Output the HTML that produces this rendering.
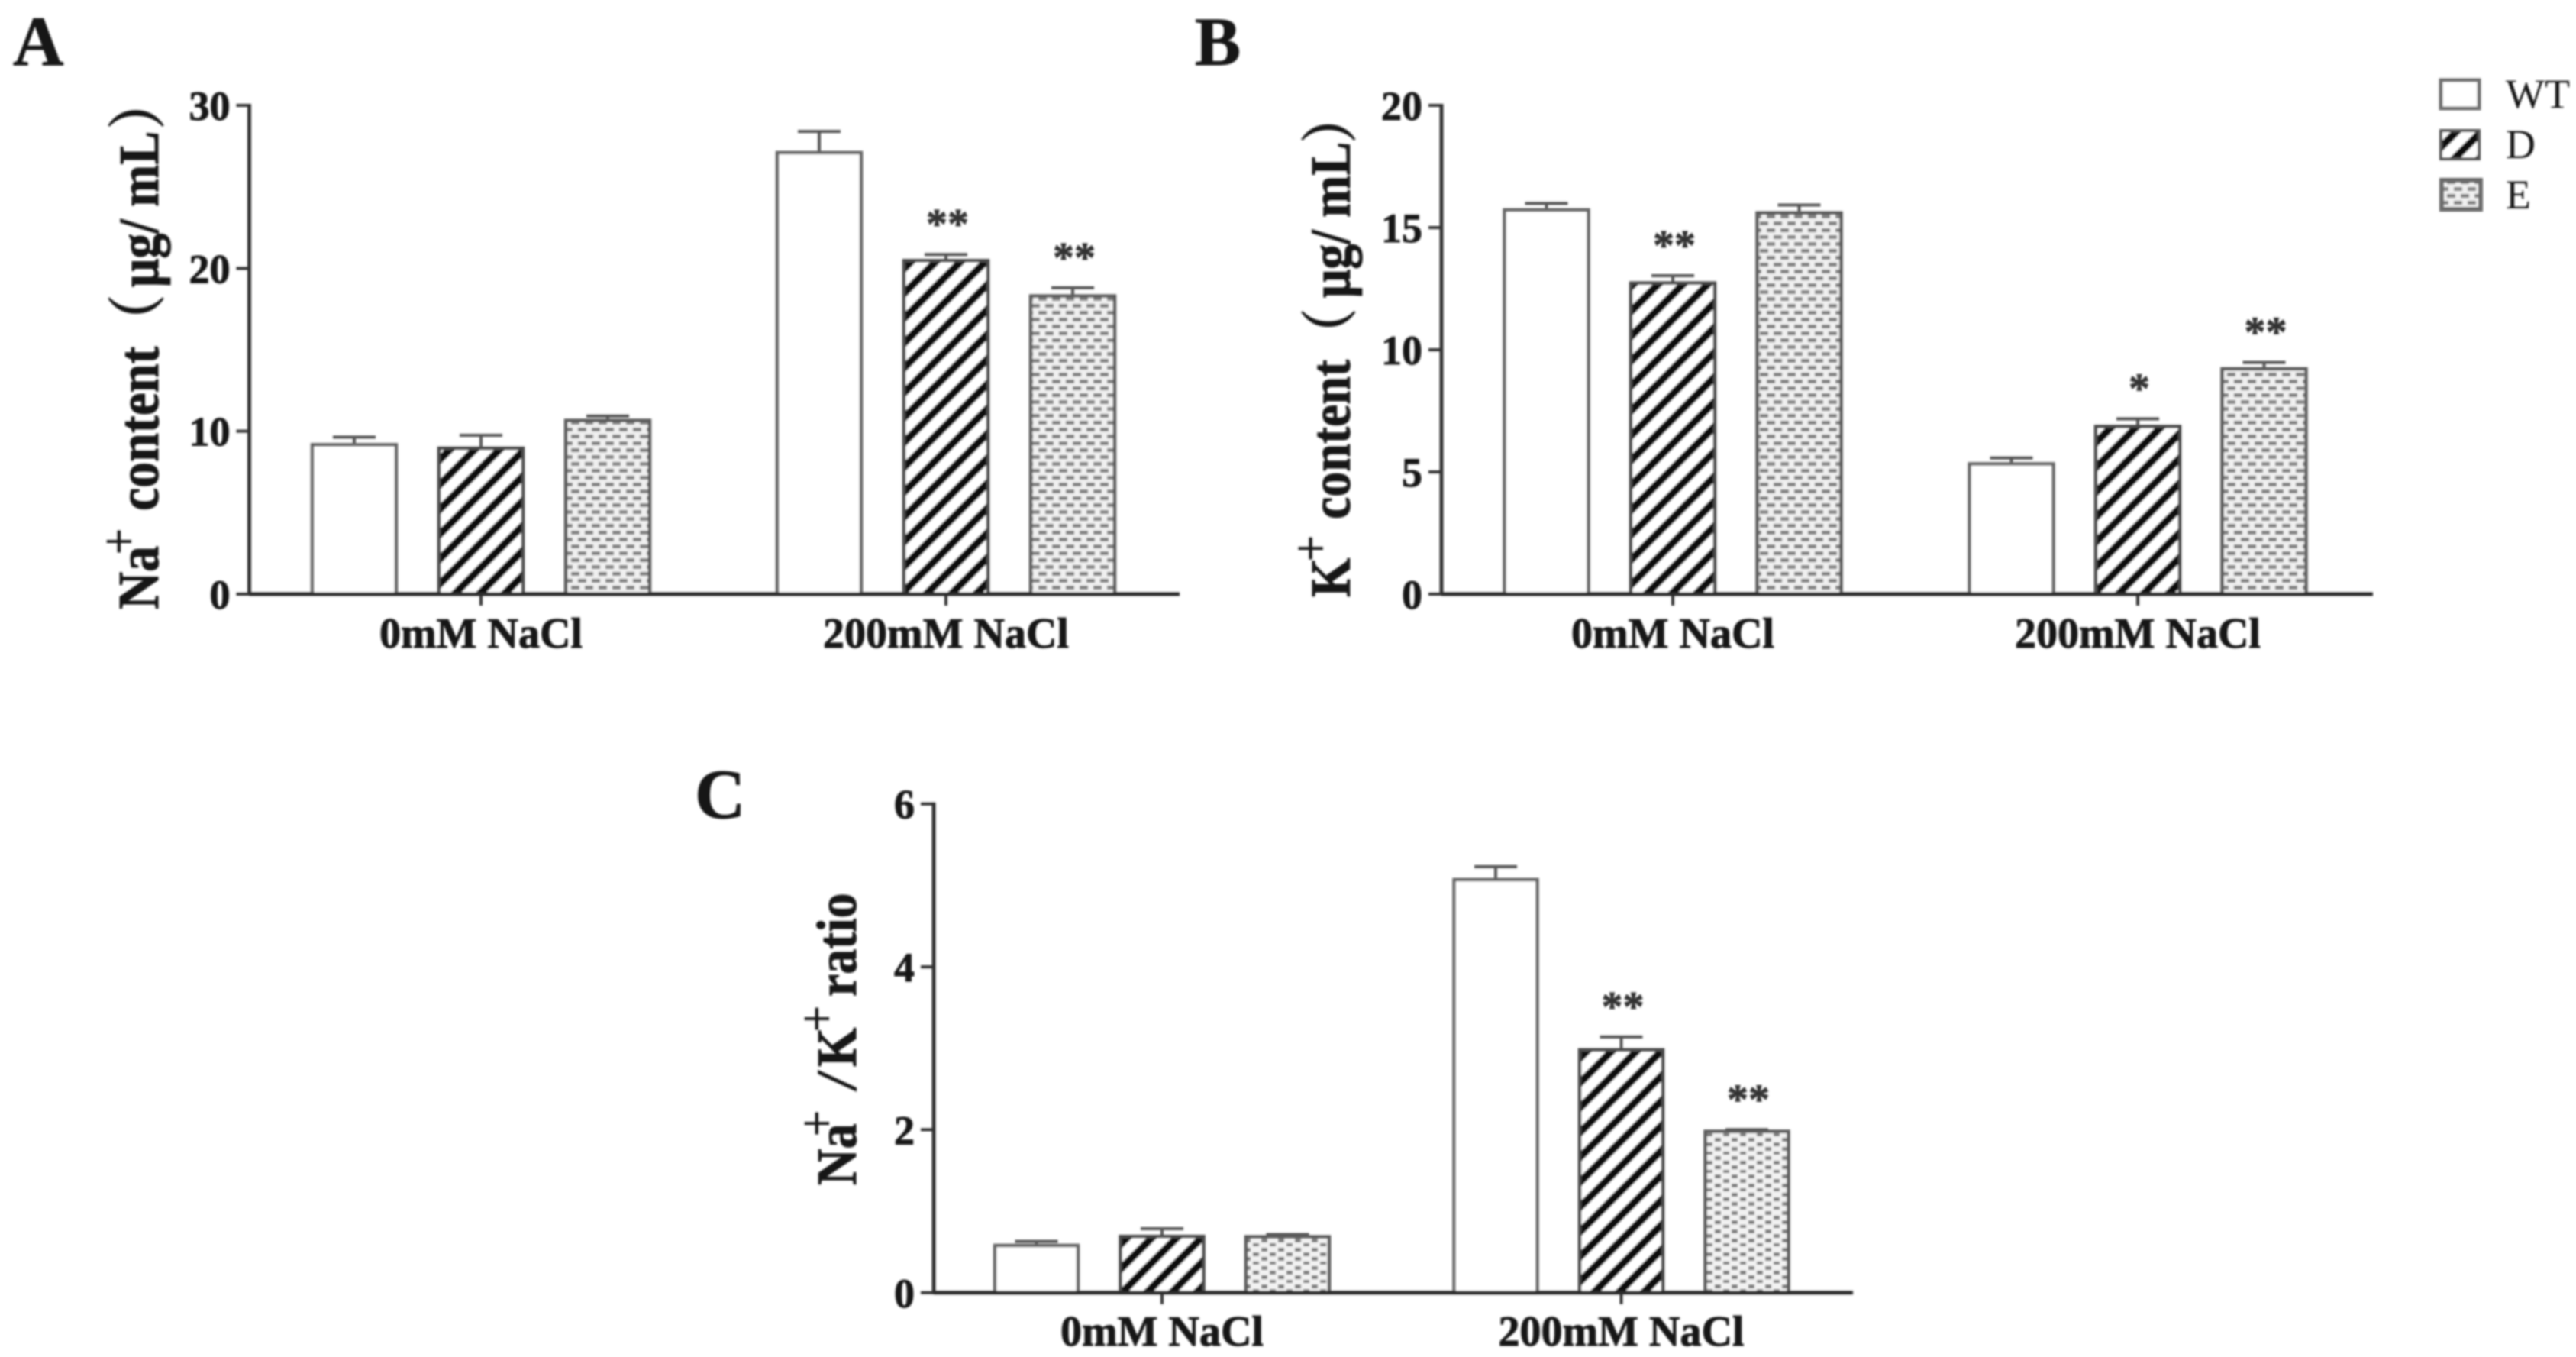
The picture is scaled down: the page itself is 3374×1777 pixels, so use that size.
<!DOCTYPE html>
<html lang="en">
<head>
<meta charset="utf-8">
<title>Na+ and K+ content charts</title>
<style>
html,body{margin:0;padding:0;background:#fff;width:3374px;height:1777px;overflow:hidden}
svg{display:block}
text{font-family:"Liberation Serif","Noto Serif CJK SC",serif;fill:#141414}
.b{font-weight:bold;stroke:#141414;stroke-width:0.9}
</style>
</head>
<body>
<svg id="figure" xmlns="http://www.w3.org/2000/svg" width="3374" height="1777" viewBox="0 0 3374 1777">
<defs>
<pattern id="hatch" patternUnits="userSpaceOnUse" width="23" height="23" patternTransform="rotate(45)">
<rect width="23" height="23" fill="#fff"/>
<rect x="0" y="0" width="10" height="23" fill="#0a0a0a"/>
</pattern>
<pattern id="dots" patternUnits="userSpaceOnUse" width="18" height="18">
<rect width="18" height="18" fill="#f0f0f0"/>
<rect x="1" y="2" width="11" height="5" fill="#808080"/>
<rect x="10" y="11" width="11" height="5" fill="#808080"/>
<rect x="-8" y="11" width="11" height="5" fill="#808080"/>
</pattern>
<pattern id="dotsC" patternUnits="userSpaceOnUse" width="22" height="24">
<rect width="22" height="24" fill="#f2f2f2"/>
<rect x="2" y="2" width="8" height="5" fill="#7c7c7c"/>
<rect x="13" y="8" width="8" height="5" fill="#7c7c7c"/>
<rect x="2" y="14" width="8" height="5" fill="#7c7c7c"/>
<rect x="13" y="20" width="8" height="5" fill="#7c7c7c"/>
</pattern>
<filter id="soft" x="0" y="0" width="100%" height="100%" filterUnits="userSpaceOnUse"><feGaussianBlur stdDeviation="1.2"/></filter>
</defs>
<g id="root" filter="url(#soft)">
<text class="b" x="17" y="85" font-size="92">A</text>
<text class="b" x="1565" y="85" font-size="90">B</text>
<text class="b" x="910" y="1071" font-size="92">C</text>

<text class="b" transform="translate(207,798) rotate(-90) scale(1,1.12)" font-size="68">Na<tspan x="72" dy="-26" font-weight="normal" font-size="60">+</tspan><tspan x="129" dy="26">content</tspan><tspan x="344" font-family="'Noto Serif CJK SC',serif">（</tspan><tspan x="422" font-size="66">μg/ mL</tspan><tspan x="629" font-family="'Noto Serif CJK SC',serif">）</tspan></text>
<text class="b" transform="translate(1768,782) rotate(-90) scale(1,1.12)" font-size="66">K<tspan x="47" dy="-26" font-weight="normal" font-size="60">+</tspan><tspan x="102" dy="26">content</tspan><tspan x="312" font-family="'Noto Serif CJK SC',serif">（</tspan><tspan x="392">μg/ mL</tspan><tspan x="595" font-family="'Noto Serif CJK SC',serif">）</tspan></text>
<text class="b" transform="translate(1121,1552) rotate(-90) scale(1,1.12)" font-size="66">Na<tspan x="64" dy="-26" font-weight="normal" font-size="60">+</tspan><tspan x="127" dy="26" font-style="italic">/</tspan><tspan x="155">K</tspan><tspan x="201" dy="-26" font-weight="normal" font-size="60">+</tspan><tspan x="247" dy="26">ratio</tspan></text>

<g id="legend">
<rect x="3197" y="105" width="50" height="37" fill="#fff" stroke="#707070" stroke-width="5"/>
<text x="3282" y="141" font-size="54">WT</text>
<rect x="3197" y="171" width="50" height="37" fill="url(#hatch)" stroke="#555" stroke-width="4"/>
<text x="3282" y="207" font-size="54">D</text>
<rect x="3198" y="236" width="51" height="38" fill="url(#dots)" stroke="#6a6a6a" stroke-width="6"/>
<text x="3282" y="273" font-size="54">E</text>
</g>
</g>
</svg>
<script>
var categories = ['0mM NaCl', '200mM NaCl'];
var seriesNames = ['WT', 'D', 'E'];

var ticksA = [0, 10, 20, 30];
var wtA = [9.17, 27.1];
var dA = [8.95, 20.47];
var eA = [10.66, 18.3];
var wtCapA = [9.64, 28.4];
var dCapA = [9.75, 20.85];
var eCapA = [10.93, 18.8];
var dSigA = ['', '**'];
var eSigA = ['', '**'];

var ticksB = [0, 5, 10, 15, 20];
var wtB = [15.72, 5.33];
var dB = [12.73, 6.86];
var eB = [15.6, 9.22];
var wtCapB = [15.99, 5.57];
var dCapB = [13.03, 7.17];
var eCapB = [15.92, 9.48];
var dSigB = ['**', '*'];
var eSigB = ['', '**'];

var ticksC = [0, 2, 4, 6];
var wtC = [0.58, 5.07];
var dC = [0.69, 2.98];
var eC = [0.686, 1.98];
var wtCapC = [0.63, 5.23];
var dCapC = [0.785, 3.14];
var eCapC = [0.715, 2.0];
var dSigC = ['', '**'];
var eSigC = ['', '**'];

var NS = 'http://www.w3.org/2000/svg';
var root = document.getElementById('root');

function mk(tag, attrs, parent) {
  var el = document.createElementNS(NS, tag);
  for (var k in attrs) el.setAttribute(k, attrs[k]);
  parent.appendChild(el);
  return el;
}

function drawPanel(p) {
  var g = mk('g', {}, root);
  
  
  var yMax = p.ticks[p.ticks.length - 1];
  function yScale(v) { return p.yBase - (p.yBase - p.yTop) * v / yMax; }
  function xScale(i) { return p.xStart + i * p.xStep; }
  var fills = ['#ffffff', 'url(#hatch)', p.eFill];
  var strokes = ['#666', '#4a4a4a', '#5c5c5c'];
  var values = [p.wt, p.d, p.e];
  var caps = [p.wtCap, p.dCap, p.eCap];
  var sigs = [null, p.dSig, p.eSig];

  categories.forEach(function (cat, i) {
    seriesNames.forEach(function (name, s) {
      var cx = xScale(i) + (s - 1) * p.barStep;
      var top = yScale(values[s][i]);
      var capY = yScale(caps[s][i]);
      var stem = mk('line', {x1: cx, x2: cx, y1: top, y2: capY, stroke: '#555', 'stroke-width': 4}, g);
      
      
      var cap = mk('line', {x1: cx - 28, x2: cx + 28, y1: capY, y2: capY, stroke: '#555', 'stroke-width': 4}, g);
      
      
      var bar = mk('rect', {x: cx - p.barW / 2, y: top, width: p.barW, height: p.yBase - top, fill: fills[s], stroke: strokes[s], 'stroke-width': 4.5}, g);
      
      
      if (sigs[s] && sigs[s][i]) {
        var star = mk('text', {x: cx + 2, y: capY - 45 + 24, 'text-anchor': 'middle', 'font-size': 56, 'font-weight': 'bold', style: 'fill:#333;stroke:#333;stroke-width:0.8'}, g);
        star.textContent = sigs[s][i];
        
        
      }
    });
    var tick = mk('line', {x1: xScale(i), x2: xScale(i), y1: p.yBase, y2: p.yBase + 15, stroke: '#333', 'stroke-width': 4}, g);
    
    
    var lab = mk('text', {x: xScale(i), y: p.labelY, 'text-anchor': 'middle', 'font-size': 56, 'font-weight': 'bold', 'class': 'b'}, g);
    lab.textContent = cat;
    
    
  });

  p.ticks.forEach(function (t) {
    var y = yScale(t);
    var tl = mk('line', {x1: p.xAxis - 17, x2: p.xAxis, y1: y, y2: y, stroke: '#333', 'stroke-width': 4}, g);
    
    
    var tt = mk('text', {x: p.xAxis - 25, y: y + 19, 'text-anchor': 'end', 'font-size': 54, 'font-weight': 'bold', 'class': 'b'}, g);
    tt.textContent = t;
    
    
  });

  var ya = mk('line', {x1: p.xAxis, x2: p.xAxis, y1: p.yTop - 2, y2: p.yBase + 2, stroke: '#333', 'stroke-width': 5}, g);
  
  
  var xa = mk('line', {x1: p.xAxis, x2: p.xEnd, y1: p.yBase, y2: p.yBase, stroke: '#2a2a2a', 'stroke-width': 5}, g);
  
  
}

drawPanel({id: 'a', ticks: ticksA, wt: wtA, d: dA, e: eA, wtCap: wtCapA, dCap: dCapA, eCap: eCapA, dSig: dSigA, eSig: eSigA, eFill: 'url(#dots)',
  xAxis: 326.5, xEnd: 1545, yTop: 138, yBase: 778, xStart: 630, xStep: 609, barStep: 166, barW: 110, labelY: 848});
drawPanel({id: 'b', ticks: ticksB, wt: wtB, d: dB, e: eB, wtCap: wtCapB, dCap: dCapB, eCap: eCapB, dSig: dSigB, eSig: eSigB, eFill: 'url(#dots)',
  xAxis: 1888, xEnd: 3108, yTop: 138, yBase: 778, xStart: 2191, xStep: 609, barStep: 165.5, barW: 110, labelY: 848});
drawPanel({id: 'c', ticks: ticksC, wt: wtC, d: dC, e: eC, wtCap: wtCapC, dCap: dCapC, eCap: eCapC, dSig: dSigC, eSig: eSigC, eFill: 'url(#dotsC)',
  xAxis: 1223, xEnd: 2427, yTop: 1052.7, yBase: 1692.8, xStart: 1522, xStep: 601.5, barStep: 164.5, barW: 109, labelY: 1762});
</script>
</body>
</html>
